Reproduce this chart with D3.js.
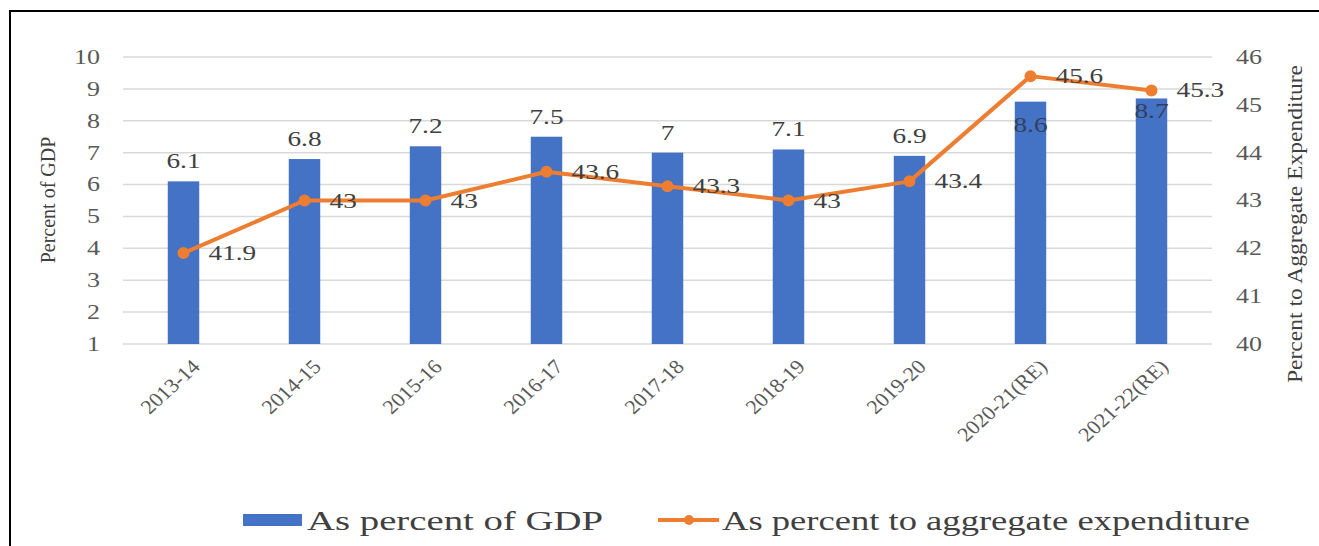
<!DOCTYPE html>
<html>
<head>
<meta charset="utf-8">
<script src="https://cdn.jsdelivr.net/npm/d3@7"></script>
<style>
  body { margin: 0; background: #fff; }
  svg text { font-family: "Times New Roman", "Liberation Serif", Tinos, "DejaVu Serif", serif; }
</style>
</head>
<body>
<div id="chart"></div>
<script>
// chart data
var years = ["2013-14", "2014-15", "2015-16", "2016-17", "2017-18", "2018-19", "2019-20", "2020-21(RE)", "2021-22(RE)"];
var gdpShare = [6.1, 6.8, 7.2, 7.5, 7.0, 7.1, 6.9, 8.6, 8.7];
var expShare = [41.9, 43.0, 43.0, 43.6, 43.3, 43.0, 43.4, 45.6, 45.3];
var leftTicks = [1, 2, 3, 4, 5, 6, 7, 8, 9, 10];
var rightTicks = [40, 41, 42, 43, 44, 45, 46];

var blue = "#4472C4", orange = "#ED7D31";
var serif = '"Times New Roman", "Liberation Serif", Tinos, "DejaVu Serif", serif';
// the source picture is stretched sideways, so the glyphs are too
var stretch = "scale(1.3,1)";

// #####################################################
// Draw the chart
//
function draw_chart () {
  var W = 1319, H = 546;
  var svg = d3.select("#chart").append("svg")
      .attr("width", W)
      .attr("height", H)
      .style("font-family", serif);

  // outer frame (right and bottom edges fall outside the picture)
  svg.append("rect")
      .attr("x", 10).attr("y", 11)
      .attr("width", 1400).attr("height", 700)
      .style("fill", "none")
      .style("stroke", "#000")
      .style("stroke-width", 2);

  var pLeft = 123, pRight = 1212, pTop = 57, pBottom = 344;

  var x = d3.scaleBand().domain(years).range([pLeft, pRight]).paddingInner(0.74).paddingOuter(0.37);
  var y = d3.scaleLinear().domain([1, 10]).range([pBottom, pTop]);
  var y2 = d3.scaleLinear().domain([40, 46]).range([pBottom, pTop]);
  var cx = function(i) { return x(years[i]) + x.bandwidth() / 2; };

  // gridlines
  svg.append("g").selectAll("line")
      .data(leftTicks)
    .enter().append("line")
      .attr("x1", pLeft).attr("x2", pRight)
      .attr("y1", function(d) { return y(d); })
      .attr("y2", function(d) { return y(d); })
      .style("stroke", "#d9d9d9")
      .style("stroke-width", 1.5);

  // left axis
  var yAxis = svg.append("g")
      .attr("transform", "translate(" + (pLeft - 23) + ",0)")
      .call(d3.axisLeft(y).tickValues(leftTicks).tickSize(0).tickPadding(0));
  yAxis.attr("font-family", null);
  yAxis.select(".domain").remove();
  yAxis.selectAll("text")
      .attr("transform", stretch)
      .style("font-family", serif)
      .style("font-size", "20px").style("fill", "#595959");

  // right axis
  var y2Axis = svg.append("g")
      .attr("transform", "translate(" + (pRight + 24) + ",0)")
      .call(d3.axisRight(y2).tickValues(rightTicks).tickFormat(d3.format("d")).tickSize(0).tickPadding(0));
  y2Axis.attr("font-family", null);
  y2Axis.select(".domain").remove();
  y2Axis.selectAll("text")
      .attr("transform", stretch)
      .style("font-family", serif)
      .style("font-size", "20px").style("fill", "#595959");

  // x axis labels
  var xAxis = svg.append("g")
      .attr("transform", "translate(0," + (pBottom + 14) + ")")
      .call(d3.axisBottom(x).tickSize(0).tickPadding(0));
  xAxis.attr("font-family", null);
  xAxis.select(".domain").remove();
  xAxis.selectAll("text")
      .style("font-family", serif)
      .style("font-size", "20px")
      .style("fill", "#595959")
      .style("text-anchor", "end")
      .attr("y", 0)
      .attr("dy", "0.7em")
      .attr("transform", "translate(7,0) scale(1.1,1) rotate(-45)");

  // axis titles
  svg.append("text")
      .attr("transform", "translate(55,200) rotate(-90)")
      .style("text-anchor", "middle")
      .style("font-size", "20px")
      .style("fill", "#404040")
      .text("Percent of GDP");

  svg.append("text")
      .attr("transform", "translate(1302,224) rotate(-90)")
      .attr("textLength", 318)
      .attr("lengthAdjust", "spacingAndGlyphs")
      .style("text-anchor", "middle")
      .style("font-size", "22px")
      .style("fill", "#404040")
      .text("Percent to Aggregate Expenditure");

  // bars
  svg.append("g").selectAll("rect")
      .data(gdpShare)
    .enter().append("rect")
      .attr("x", function(d, i) { return x(years[i]); })
      .attr("y", function(d) { return y(d); })
      .attr("width", x.bandwidth())
      .attr("height", function(d) { return pBottom - y(d); })
      .style("fill", blue);

  // bar labels (the two tall ones sit inside the bar top)
  svg.append("g").selectAll("text")
      .data(gdpShare)
    .enter().append("text")
      .attr("transform", function(d, i) {
        var off = d > 8 ? 30 - (d - 8.6) * 100 : -13;
        return "translate(" + cx(i) + "," + (y(d) + off) + ") " + stretch;
      })
      .style("text-anchor", "middle")
      .style("font-size", "21px")
      .style("fill", function(d) { return d > 8 ? "#34405a" : "#404040"; })
      .text(function(d) { return d; });

  // line
  var line = d3.line()
      .x(function(d, i) { return cx(i); })
      .y(function(d) { return y2(d); });

  svg.append("path")
      .datum(expShare)
      .attr("d", line)
      .style("fill", "none")
      .style("stroke", orange)
      .style("stroke-width", 4)
      .style("stroke-linejoin", "round");

  svg.append("g").selectAll("circle")
      .data(expShare)
    .enter().append("circle")
      .attr("cx", function(d, i) { return cx(i); })
      .attr("cy", function(d) { return y2(d); })
      .attr("r", 6)
      .style("fill", orange);

  svg.append("g").selectAll("text")
      .data(expShare)
    .enter().append("text")
      .attr("transform", function(d, i) {
        return "translate(" + (cx(i) + 25) + "," + (y2(d) + 7) + ") " + stretch;
      })
      .style("font-size", "21px")
      .style("fill", "#404040")
      .text(function(d) { return d; });

  // legend
  var leg = svg.append("g");
  leg.append("rect")
      .attr("x", 243).attr("y", 514)
      .attr("width", 59).attr("height", 12)
      .style("fill", blue);
  leg.append("text")
      .attr("x", 307).attr("y", 530)
      .attr("textLength", 296)
      .attr("lengthAdjust", "spacingAndGlyphs")
      .style("font-size", "27px")
      .style("fill", "#404040")
      .text("As percent of GDP");
  leg.append("line")
      .attr("x1", 658).attr("x2", 719)
      .attr("y1", 520).attr("y2", 520)
      .style("stroke", orange)
      .style("stroke-width", 4);
  leg.append("circle")
      .attr("cx", 689).attr("cy", 520).attr("r", 5)
      .style("fill", orange);
  leg.append("text")
      .attr("x", 722).attr("y", 530)
      .attr("textLength", 528)
      .attr("lengthAdjust", "spacingAndGlyphs")
      .style("font-size", "27px")
      .style("fill", "#404040")
      .text("As percent to aggregate expenditure");
}

draw_chart();
</script>
</body>
</html>
